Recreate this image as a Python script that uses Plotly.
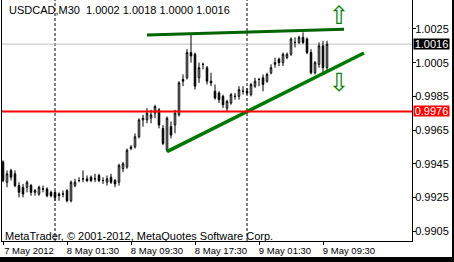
import plotly.graph_objects as go
import pandas as pd

# ---------------- data ----------------
symbol_title = "USDCAD,M30  1.0002 1.0018 1.0000 1.0016"
copyright_text = "MetaTrader, \u00a9 2001-2012, MetaQuotes Software Corp."

# M30 bar open times (7 May 2012 17:30 -> 9 May 2012 10:00)
bar_times = pd.date_range("2012-05-07 17:30", periods=82, freq="30min")

opens = [0.9946, 0.9934, 0.9941, 0.9939, 0.9932, 0.9931, 0.9931, 0.9932, 0.9928, 0.9927,
         0.9930, 0.9930, 0.9928, 0.9928, 0.9927, 0.9927, 0.9929, 0.9923, 0.9932, 0.9935,
         0.9936, 0.9936, 0.9937, 0.9936, 0.9938, 0.9935, 0.9934, 0.9937, 0.9935, 0.9934,
         0.9942, 0.9943, 0.9954, 0.9955, 0.9961, 0.9971, 0.9971, 0.9972, 0.9975, 0.9977,
         0.9966, 0.9953, 0.9967, 0.9968, 0.9974, 0.9995, 0.9996, 1.0011, 1.0010, 0.9996,
         1.0004, 1.0002, 0.9994, 0.9988, 0.9987, 0.9985, 0.9978, 0.9981, 0.9985, 0.9985,
         0.9988, 0.9988, 0.9986, 0.9991, 0.9995, 0.9996, 0.9994, 0.9999, 1.0004, 1.0007,
         1.0005, 1.0008, 1.0010, 1.0017, 1.0017, 1.0020, 1.0019, 1.0011, 0.9999, 1.0004,
         1.0015, 1.0002]
highs = [0.9947, 0.9941, 0.9942, 0.9941, 0.9934, 0.9933, 0.9935, 0.9933, 0.9930, 0.9932,
         0.9932, 0.9931, 0.9929, 0.9929, 0.9928, 0.9929, 0.9930, 0.9935, 0.9936, 0.9937,
         0.9941, 0.9938, 0.9938, 0.9939, 0.9939, 0.9937, 0.9938, 0.9939, 0.9936, 0.9945,
         0.9946, 0.9954, 0.9956, 0.9963, 0.9972, 0.9974, 0.9978, 0.9977, 0.9980, 0.9978,
         0.9968, 0.9973, 0.9970, 0.9977, 0.9994, 0.9998, 1.0013, 1.0022, 1.0011, 1.0005,
         1.0005, 1.0003, 0.9999, 0.9992, 0.9988, 0.9986, 0.9983, 0.9987, 0.9987, 0.9991,
         0.9991, 0.9990, 0.9993, 0.9996, 0.9996, 0.9998, 0.9999, 1.0004, 1.0008, 1.0008,
         1.0011, 1.0011, 1.0020, 1.0020, 1.0021, 1.0023, 1.0020, 1.0013, 1.0006, 1.0017,
         1.0018, 1.0018]
lows = [0.9934, 0.9931, 0.9935, 0.9931, 0.9925, 0.9925, 0.9928, 0.9926, 0.9926, 0.9926,
        0.9928, 0.9925, 0.9925, 0.9923, 0.9923, 0.9925, 0.9922, 0.9922, 0.9931, 0.9934,
        0.9934, 0.9934, 0.9934, 0.9934, 0.9934, 0.9933, 0.9932, 0.9933, 0.9931, 0.9932,
        0.9940, 0.9942, 0.9953, 0.9954, 0.9960, 0.9967, 0.9969, 0.9969, 0.9972, 0.9966,
        0.9956, 0.9952, 0.9960, 0.9963, 0.9973, 0.9991, 0.9995, 1.0005, 0.9989, 0.9993,
        1.0001, 0.9992, 0.9991, 0.9983, 0.9981, 0.9978, 0.9976, 0.9980, 0.9983, 0.9983,
        0.9986, 0.9986, 0.9985, 0.9990, 0.9991, 0.9988, 0.9993, 0.9998, 1.0002, 1.0003,
        1.0003, 1.0007, 1.0009, 1.0014, 1.0016, 1.0016, 1.0010, 0.9998, 0.9998, 1.0002,
        0.9999, 1.0000]
closes = [0.9935, 0.9939, 0.9937, 0.9932, 0.9928, 0.9927, 0.9934, 0.9928, 0.9929, 0.9931,
          0.9930, 0.9926, 0.9926, 0.9925, 0.9926, 0.9927, 0.9923, 0.9934, 0.9934, 0.9935,
          0.9936, 0.9935, 0.9935, 0.9936, 0.9935, 0.9935, 0.9936, 0.9934, 0.9933, 0.9944,
          0.9945, 0.9953, 0.9955, 0.9961, 0.9971, 0.9972, 0.9975, 0.9974, 0.9979, 0.9968,
          0.9957, 0.9972, 0.9962, 0.9975, 0.9993, 0.9994, 1.0011, 1.0009, 0.9991, 1.0002,
          1.0004, 0.9994, 0.9993, 0.9984, 0.9983, 0.9980, 0.9982, 0.9986, 0.9985, 0.9989,
          0.9988, 0.9987, 0.9992, 0.9994, 0.9995, 0.9992, 0.9998, 1.0002, 1.0005, 1.0005,
          1.0010, 1.0010, 1.0019, 1.0017, 1.0020, 1.0017, 1.0011, 0.9999, 1.0005, 1.0015,
          1.0002, 1.0016]

bid_price = 1.0016
level_price = 0.9976

# trend lines drawn on the chart (time, price)
top_line_times = ["2012-05-08 11:30", "2012-05-09 12:07:30"]
top_line_prices = [1.00214, 1.00248]
low_line_times = ["2012-05-08 14:00", "2012-05-09 14:37:30"]
low_line_prices = [0.99522, 1.00107]

# arrow objects
arrow_times = ["2012-05-09 11:30", "2012-05-09 11:30"]
arrow_prices = [1.00318, 0.99917]
arrow_symbols = ["\u21e7", "\u21e9"]

# day separators
day_breaks = ["2012-05-08 00:00", "2012-05-09 00:00"]

# axis ticks
x_tick_times = ["2012-05-07 17:30", "2012-05-08 01:30", "2012-05-08 09:30",
                "2012-05-08 17:30", "2012-05-09 01:30", "2012-05-09 09:30"]
x_tick_text = ["7 May 2012", "8 May 01:30", "8 May 09:30",
               "8 May 17:30", "9 May 01:30", "9 May 09:30"]
y_tick_vals = [0.9905, 0.9925, 0.9945, 0.9965, 0.9985, 1.0005, 1.0025]
y_tick_text = ["%.4f" % v for v in y_tick_vals]

x_range = ["2012-05-07 17:22:30", "2012-05-09 20:37:30"]
y_range = [0.98991, 1.00422]

FONT = "Liberation Sans, Arial, sans-serif"

# ---------------- figure ----------------
fig = go.Figure()

fig.add_trace(go.Candlestick(
    x=bar_times, open=opens, high=highs, low=lows, close=closes,
    increasing=dict(line=dict(color="black", width=1), fillcolor="white"),
    decreasing=dict(line=dict(color="black", width=1), fillcolor="black"),
    whiskerwidth=0, showlegend=False, hoverinfo="skip",
))

fig.add_trace(go.Scatter(x=top_line_times, y=top_line_prices, mode="lines",
                         line=dict(color="#006400", width=3), showlegend=False, hoverinfo="skip"))
fig.add_trace(go.Scatter(x=low_line_times, y=low_line_prices, mode="lines",
                         line=dict(color="#007800", width=3.5), showlegend=False, hoverinfo="skip"))
fig.add_trace(go.Scatter(x=arrow_times, y=arrow_prices, mode="text", text=arrow_symbols,
                         textfont=dict(color="#008000", size=25, family="DejaVu Sans"),
                         showlegend=False, hoverinfo="skip"))

shapes = []
for d in day_breaks:
    shapes.append(dict(type="line", xref="x", yref="paper", x0=d, x1=d, y0=0, y1=1,
                       line=dict(color="black", width=1, dash="3px,2px"), layer="below"))
shapes.append(dict(type="line", xref="paper", yref="y", x0=0, x1=1, y0=bid_price, y1=bid_price,
                   line=dict(color="#c0c0c0", width=1), layer="below"))
shapes.append(dict(type="line", xref="paper", yref="y", x0=0, x1=1, y0=level_price, y1=level_price,
                   line=dict(color="#ff0000", width=2), layer="above"))
# window frame (black) at right and bottom
shapes.append(dict(type="rect", xref="paper", yref="paper", x0=1.0976, x1=1.3, y0=-0.3, y1=1.2,
                   line=dict(width=0), fillcolor="black", layer="above"))
shapes.append(dict(type="rect", xref="paper", yref="paper", x0=-0.1, x1=1.3, y0=-0.3, y1=-0.0664,
                   line=dict(width=0), fillcolor="black", layer="above"))

annotations = [
    dict(text=symbol_title, xref="paper", yref="paper", x=0.012, y=0.957,
         xanchor="left", yanchor="middle", showarrow=False,
         font=dict(family=FONT, size=11, color="black")),
    dict(text=copyright_text, xref="paper", yref="paper", x=0.0025, y=0.019,
         xanchor="left", yanchor="middle", showarrow=False,
         font=dict(family=FONT, size=11, color="black")),
    dict(text="%.4f" % bid_price, xref="paper", yref="y", x=1, y=bid_price, xshift=1,
         xanchor="left", yanchor="middle", showarrow=False, bgcolor="black", borderpad=0,
         width=35, height=10, align="center",
         font=dict(family=FONT, size=11, color="white")),
    dict(text="%.4f" % level_price, xref="paper", yref="y", x=1, y=level_price, xshift=1,
         xanchor="left", yanchor="middle", showarrow=False, bgcolor="#ff0000", borderpad=0,
         width=35, height=10, align="center",
         font=dict(family=FONT, size=11, color="white")),
]

fig.update_layout(
    width=454, height=262, autosize=False,
    margin=dict(l=2, r=42, t=0, b=21, pad=0),
    paper_bgcolor="white", plot_bgcolor="white",
    boxgap=0.45,
    shapes=shapes, annotations=annotations,
    showlegend=False,
    font=dict(family=FONT, size=11, color="black"),
)
fig.update_xaxes(
    type="date", range=x_range, rangeslider=dict(visible=False),
    showgrid=False, zeroline=False, showline=True, linecolor="black", linewidth=1,
    ticks="outside", ticklen=3, tickcolor="black", tickwidth=1,
    tickvals=x_tick_times, ticktext=x_tick_text, ticklabelshift=26,
    ticklabeloverflow="allow", ticklabelstandoff=-2,
    tickfont=dict(family=FONT, size=9.5, color="black"),
)
fig.update_yaxes(
    side="right", range=y_range, showgrid=False, zeroline=False,
    showline=True, mirror=True, linecolor="black", linewidth=1,
    ticks="outside", ticklen=3, tickcolor="black", tickwidth=1,
    tickvals=y_tick_vals, ticktext=y_tick_text, ticklabelstandoff=-3,
    tickfont=dict(family=FONT, size=11, color="black"),
)

fig.write_html("out.html")
